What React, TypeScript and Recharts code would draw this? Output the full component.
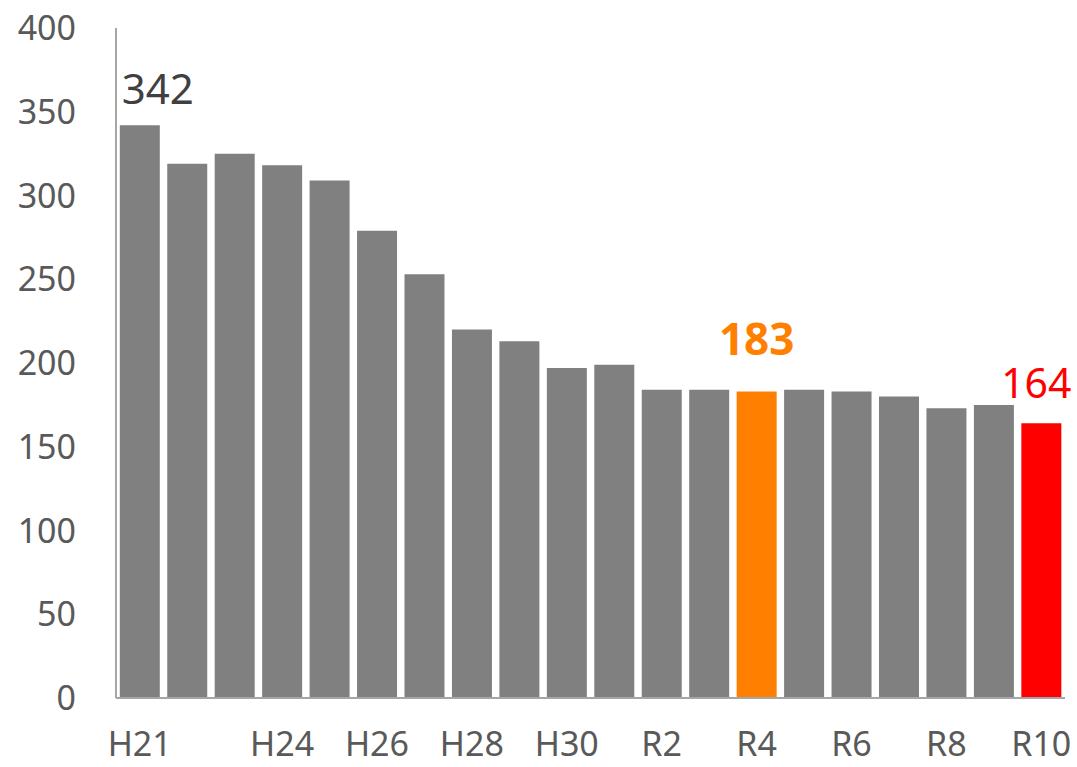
import { BarChart, Bar, XAxis, YAxis, Cell, LabelList } from 'recharts';

const categories = [
  'H21', 'H22', 'H23', 'H24', 'H25', 'H26', 'H27', 'H28', 'H29', 'H30',
  'R1', 'R2', 'R3', 'R4', 'R5', 'R6', 'R7', 'R8', 'R9', 'R10',
];
const values = [342, 319, 325, 318, 309, 279, 253, 220, 213, 197, 199, 184, 184, 183, 184, 183, 180, 173, 175, 164];
const shownTicks = ['H21', 'H24', 'H26', 'H28', 'H30', 'R2', 'R4', 'R6', 'R8', 'R10'];
const yTicks = [0, 50, 100, 150, 200, 250, 300, 350, 400];

const ORANGE = '#FF8000';
const RED = '#FF0000';
const GRAY = '#808080';
const FONT = "'Noto Sans', sans-serif";

const data = categories.map((name, i) => ({ name, value: values[i] }));

// which bars get a value label, and how it looks
const labelStyle: Record<number, { fill: string; weight: string | number; size: number; dx: number; dy: number }> = {
  0: { fill: '#404040', weight: 'normal', size: 42, dx: 18, dy: -21 },
  13: { fill: ORANGE, weight: 'bold', size: 44, dx: 0, dy: -36 },
  19: { fill: RED, weight: 'normal', size: 41, dx: -5, dy: -25 },
};

const barColor = (i: number) => (i === 13 ? ORANGE : i === 19 ? RED : GRAY);

const ValueLabel = (props: any) => {
  const { x, y, width, value, index } = props;
  const s = labelStyle[index];
  if (!s) return null;
  return (
    <text
      x={x + width / 2 + s.dx}
      y={y + s.dy}
      textAnchor="middle"
      fill={s.fill}
      fontSize={s.size}
      fontWeight={s.weight}
      fontFamily={FONT}
    >
      {value}
    </text>
  );
};

export default function App() {
  return (
    <div style={{ position: 'absolute', left: 0, top: 0, width: 1077, height: 767, background: '#fff' }}>
      <BarChart
        width={1077}
        height={767}
        data={data}
        margin={{ top: 28, right: 12, left: 0, bottom: 0 }}
        barCategoryGap="8%"
      >
        <XAxis
          dataKey="name"
          interval={0}
          height={69}
          tickLine={false}
          tickMargin={28}
          axisLine={{ stroke: '#A6A6A6', strokeWidth: 2 }}
          tickFormatter={(v: string) => (shownTicks.includes(v) ? v : '')}
          tick={{ fill: '#595959', fontSize: 34, fontFamily: FONT }}
        />
        <YAxis
          domain={[0, 400]}
          ticks={yTicks}
          width={116}
          tickLine={false}
          tickMargin={34}
          axisLine={{ stroke: '#A6A6A6', strokeWidth: 2 }}
          tick={{ fill: '#595959', fontSize: 34, fontFamily: FONT }}
        />
        <Bar dataKey="value" isAnimationActive={false}>
          {data.map((_, i) => (
            <Cell key={`cell-${i}`} fill={barColor(i)} />
          ))}
          <LabelList dataKey="value" content={<ValueLabel />} />
        </Bar>
      </BarChart>
    </div>
  );
}
